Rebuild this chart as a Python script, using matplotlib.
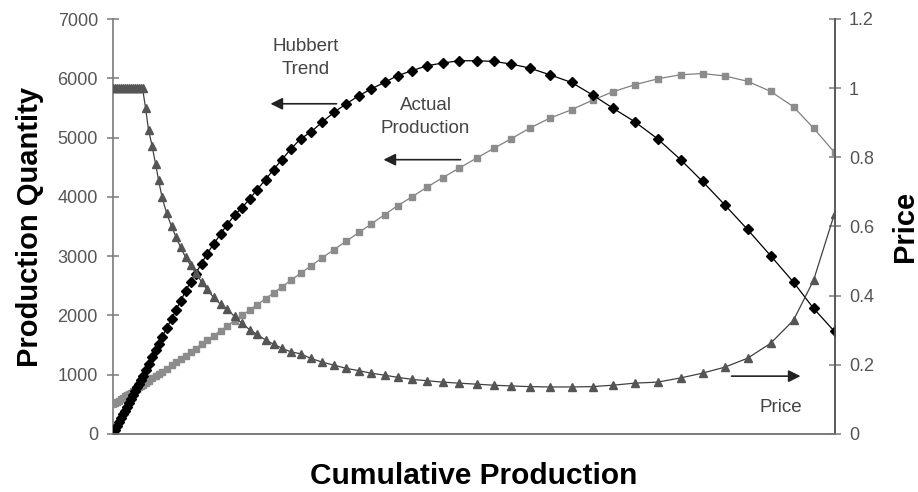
import matplotlib
matplotlib.use("Agg")
import matplotlib.pyplot as plt

plt.rcParams['font.family'] = ['Liberation Sans', 'DejaVu Sans']

# cumulative production (x), shared by all three series
cum_prod = [0, 500, 1000, 1500, 2000, 2500, 3000, 3500, 4000, 4500, 5000, 5500,
            6000, 6500, 7000, 7500, 8250, 9000, 9875, 10750, 11500, 12375,
            13500, 14750, 15875, 17000, 18250, 19500, 20750, 22250, 23625,
            25250, 27000, 28625, 30500, 32375, 34250, 36125, 38250, 40250,
            42375, 44500, 47000, 49500, 52375, 55375, 58375, 61625, 64625,
            68000, 71250, 74875, 78625, 82500, 86625, 91125, 95375, 99625,
            104250, 109250, 114750, 120000, 125000, 130500, 136250, 142000,
            147500, 153000, 158750, 164500, 170250, 175250, 180500]

hubbert = [0, 70, 135, 200, 265, 330, 395, 460, 525, 590, 655, 720, 785, 850,
           915, 980, 1080, 1185, 1300, 1410, 1520, 1630, 1780, 1940, 2090,
           2240, 2410, 2560, 2705, 2873, 3040, 3200, 3370, 3530, 3690, 3820,
           3960, 4120, 4290, 4460, 4630, 4800, 4978, 5089, 5258, 5426, 5567,
           5707, 5819, 5931, 6044, 6128, 6212, 6257, 6296, 6296, 6284, 6241,
           6173, 6061, 5930, 5720, 5500, 5270, 4980, 4630, 4260, 3870, 3450,
           3010, 2560, 2120, 1730]

actual = [500, 520, 545, 565, 590, 610, 635, 655, 680, 700, 720, 745, 765,
          790, 810, 830, 865, 900, 940, 975, 1010, 1050, 1100, 1160, 1210,
          1260, 1320, 1380, 1440, 1510, 1580, 1660, 1740, 1820, 1910, 2000,
          2090, 2180, 2280, 2380, 2480, 2590, 2710, 2830, 2970, 3110, 3250,
          3400, 3540, 3700, 3850, 4000, 4163, 4322, 4483, 4658, 4820, 4978,
          5157, 5325, 5470, 5630, 5770, 5890, 5990, 6060, 6080, 6040, 5950,
          5780, 5520, 5160, 4750]

price = [1.0, 1.0, 1.0, 1.0, 1.0, 1.0, 1.0, 1.0, 1.0, 1.0, 1.0, 1.0, 1.0,
         1.0, 1.0, 1.0, 0.944, 0.880, 0.834, 0.782, 0.735, 0.685, 0.640,
         0.600, 0.570, 0.540, 0.512, 0.488, 0.466, 0.440, 0.418, 0.395,
         0.375, 0.362, 0.340, 0.320, 0.302, 0.288, 0.272, 0.260, 0.248,
         0.238, 0.232, 0.219, 0.208, 0.199, 0.190, 0.183, 0.176, 0.170,
         0.164, 0.158, 0.154, 0.150, 0.147, 0.144, 0.141, 0.139, 0.137,
         0.136, 0.136, 0.137, 0.141, 0.147, 0.150, 0.162, 0.176, 0.193,
         0.219, 0.262, 0.329, 0.444, 0.637]

left_ticks = [0, 1000, 2000, 3000, 4000, 5000, 6000, 7000]
right_ticks = [0, 0.2, 0.4, 0.6, 0.8, 1.0, 1.2]
right_labels = ['0', '0.2', '0.4', '0.6', '0.8', '1', '1.2']

fig = plt.figure(figsize=(9.18, 4.92), dpi=100)
ax = fig.add_axes([112.5 / 918, 1 - 434 / 492, (834.5 - 112.5) / 918, (434 - 19) / 492])
ax2 = ax.twinx()

ax.plot(cum_prod, actual, color='#808080', lw=0.9, marker='s', ms=5,
        mfc='#8c8c8c', mec='#8c8c8c', zorder=3)
ax.plot(cum_prod, hubbert, color='black', lw=0.9, marker='D', ms=4.8,
        mfc='black', mec='black', zorder=4)
ax2.plot(cum_prod, price, color='#404040', lw=0.9, marker='^', ms=5.3,
         mfc='#555555', mec='#555555', zorder=3)

ax.set_xlim(0, 180500)
ax.set_ylim(0, 7000)
ax2.set_ylim(0, 1.2)
ax.set_xticks([])
ax.set_yticks(left_ticks)
ax2.set_yticks(right_ticks)
ax2.set_yticklabels(right_labels)

for a in (ax, ax2):
    a.spines['top'].set_visible(False)
    for s in ('left', 'right', 'bottom'):
        a.spines[s].set_color('#7a7a7a')
        a.spines[s].set_linewidth(1.2)
    a.tick_params(axis='y', direction='inout', length=9, width=1.1,
                  color='#7a7a7a', labelsize=13, labelcolor='#555555', pad=6)
ax2.spines['left'].set_visible(False)
ax2.spines['right'].set_color('#555555')

ax.set_ylabel('Production Quantity', fontsize=21, fontweight='bold', labelpad=10)
ax2.set_ylabel('Price', fontsize=21, fontweight='bold', rotation=90, labelpad=12)
ax.set_xlabel('Cumulative Production', fontsize=21.5, fontweight='bold', labelpad=20)

arrow = dict(arrowstyle='-|>', color='#222222', lw=1.2, mutation_scale=18,
             shrinkA=0, shrinkB=0)
txt = dict(fontsize=13.5, color='#444444', ha='center', va='center',
           linespacing=1.5)

ax.text(48250, 6344, 'Hubbert\nTrend', **txt)
ax.annotate('', xy=(39500, 5570), xytext=(56000, 5570), arrowprops=arrow)
ax.text(78250, 5351, 'Actual\nProduction', **txt)
ax.annotate('', xy=(67750, 4627), xytext=(87000, 4627), arrowprops=arrow)
ax.text(167000, 454, 'Price', **txt)
ax.annotate('', xy=(172000, 976), xytext=(154750, 976), arrowprops=arrow)

fig.savefig('out.png', dpi=100)
